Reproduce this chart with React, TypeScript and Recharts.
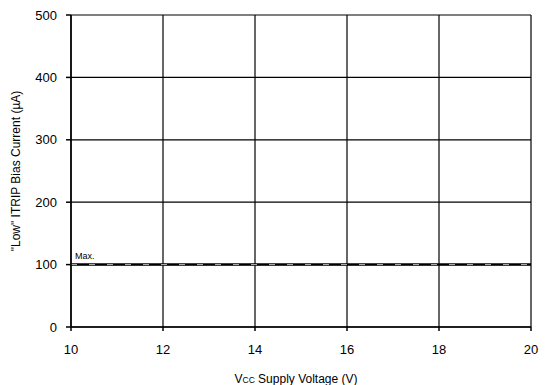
import { LineChart, Line, XAxis, YAxis, CartesianGrid, LabelList } from 'recharts'

const voltages = [10, 12, 14, 16, 18, 20]
const maxCurrent = [100, 100, 100, 100, 100, 100]
const xTicks = [10, 12, 14, 16, 18, 20]
const yTicks = [0, 100, 200, 300, 400, 500]

const data = voltages.map((v, i) => ({ v, max: maxCurrent[i] }))

const font = 'Liberation Sans, Arial, sans-serif'

function XLabel({ viewBox }: any) {
  const cx = viewBox.x + viewBox.width / 2
  return (
    <text x={cx - 5} y={383} textAnchor="middle" fontSize={12} fontFamily={font} fill="#000">
      V<tspan fontSize={8.5}>CC</tspan> Supply Voltage (V)
    </text>
  )
}

function YLabel({ viewBox }: any) {
  const cy = viewBox.y + viewBox.height / 2
  return (
    <text
      x={20}
      y={cy}
      transform={`rotate(-90, 20, ${cy})`}
      textAnchor="middle"
      fontSize={12}
      fontFamily={font}
      fill="#000"
    >
      "Low" ITRIP Bias Current (µA)
    </text>
  )
}

function MaxLabel(props: any) {
  const { x, y, index } = props
  if (index !== 0) return null
  return (
    <text x={x + 4} y={y - 6} fontSize={9} fontFamily={font} fill="#000">
      Max.
    </text>
  )
}

export default function App() {
  return (
    <div style={{ position: 'absolute', left: 0, top: 0, width: 551, height: 385, background: '#fff' }}>
      <LineChart width={551} height={385} data={data} margin={{ top: 15, right: 20, bottom: 28, left: 0 }}>
        <CartesianGrid stroke="#000" strokeWidth={1.2} />
        <XAxis
          dataKey="v"
          type="number"
          domain={[10, 20]}
          ticks={xTicks}
          height={30}
          tickSize={4}
          tickMargin={14}
          stroke="#000"
          strokeWidth={1.5}
          tick={{ fill: '#000', fontSize: 13, fontFamily: font }}
          label={<XLabel />}
        />
        <YAxis
          type="number"
          domain={[0, 500]}
          ticks={yTicks}
          width={71}
          tickSize={5}
          tickMargin={9}
          stroke="#000"
          strokeWidth={1.5}
          tick={{ fill: '#000', fontSize: 13, fontFamily: font }}
          label={<YLabel />}
        />
        <Line
          dataKey="max"
          stroke="#000"
          strokeWidth={2.5}
          dot={false}
          isAnimationActive={false}
        >
          <LabelList content={<MaxLabel />} />
        </Line>
        <Line
          dataKey="max"
          stroke="#bbb"
          strokeWidth={1}
          strokeDasharray="6 12"
          dot={false}
          isAnimationActive={false}
        />
      </LineChart>
    </div>
  )
}
